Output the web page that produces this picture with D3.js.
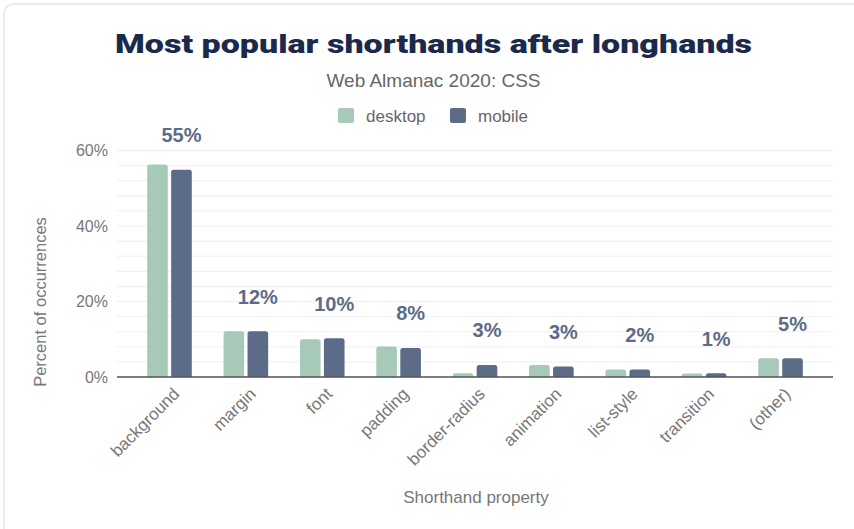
<!DOCTYPE html>
<html>
<head>
<meta charset="utf-8">
<script src="https://cdn.jsdelivr.net/npm/d3@7"></script>
<style>
  html, body { margin: 0; padding: 0; background: #fff; }
  svg { display: block; }
  text { font-family: Helvetica, "Liberation Sans", Arial, sans-serif; }
</style>
</head>
<body>
<svg id="chart" width="854" height="529"></svg>
<script>
const categories = ["background", "margin", "font", "padding", "border-radius", "animation", "list-style", "transition", "(other)"];
const seriesNames = ["desktop", "mobile"];
const desktopValues = [56.3, 12.1, 10.0, 8.1, 1.0, 3.2, 2.0, 0.9, 5.0];
const mobileValues  = [54.9, 12.1, 10.3, 7.7, 3.2, 2.8, 2.0, 1.0, 5.0];
const yTicks = [0, 20, 40, 60];
const gridTicks = [0, 4, 8, 12, 16, 20, 24, 28, 32, 36, 40, 44, 48, 52, 56, 60];
const titleText = "Most popular shorthands after longhands";
const subtitleText = "Web Almanac 2020: CSS";
const xTitle = "Shorthand property";
const yTitle = "Percent of occurrences";

const colors = { desktop: "#a6c9b8", mobile: "#5c6b87" };

const svg = d3.select("#chart");

// card border
svg.append("rect")
  .attr("x", 4).attr("y", 4).attr("width", 900).attr("height", 600)
  .attr("rx", 10).attr("ry", 10)
  .attr("fill", "#fff").attr("stroke", "#e6e6e6").attr("stroke-width", 1.5);

const x0 = d3.scaleBand().domain(categories).range([117, 833])
  .paddingInner(0.416).paddingOuter(0.395);
const x1 = d3.scaleBand().domain(seriesNames).range([0, x0.bandwidth()]).paddingInner(0.14);
const y = d3.scaleLinear().domain([0, 60]).range([377, 150.6]);

// grid
svg.append("g").selectAll("line").data(gridTicks).join("line")
  .attr("x1", 117).attr("x2", 833)
  .attr("y1", d => y(d)).attr("y2", d => y(d))
  .attr("stroke", "#efefef").attr("stroke-width", 1);

// y axis labels
const yAxis = d3.axisLeft(y).tickValues(yTicks).tickFormat(d => d + "%").tickSize(0).tickPadding(9);
const yg = svg.append("g").attr("transform", "translate(117,0)").call(yAxis);
yg.select(".domain").remove();
yg.selectAll("text").attr("font-size", 16).attr("fill", "#777").attr("font-family", 'Helvetica, "Liberation Sans", Arial, sans-serif');

// bars
const rows = categories.map((c, i) => ({ cat: c, desktop: desktopValues[i], mobile: mobileValues[i] }));
function topRounded(x, yTop, w, h, r) {
  r = Math.min(r, h, w / 2);
  return `M${x},${yTop + h}V${yTop + r}Q${x},${yTop} ${x + r},${yTop}H${x + w - r}Q${x + w},${yTop} ${x + w},${yTop + r}V${yTop + h}Z`;
}
const groups = svg.append("g").selectAll("g").data(rows).join("g")
  .attr("transform", d => `translate(${x0(d.cat)},0)`);
groups.selectAll("path").data(d => seriesNames.map(s => ({ s, v: d[s] }))).join("path")
  .attr("d", d => topRounded(x1(d.s), y(d.v), x1.bandwidth(), y(0) - y(d.v), 2.5))
  .attr("fill", d => colors[d.s]);

// x axis line
const xAxis = d3.axisBottom(x0).tickSize(0).tickFormat("");
const xg = svg.append("g").attr("transform", `translate(0,${y(0)})`).call(xAxis);
xg.select(".domain").attr("stroke", "#555").attr("stroke-width", 1.5).attr("d", "M117,0H833");

// x tick labels
svg.append("g").selectAll("text").data(categories).join("text")
  .attr("transform", d => `translate(${x0(d) + x0.bandwidth() / 2 + 11},395) rotate(-45)`)
  .attr("text-anchor", "end")
  .attr("font-size", 17).attr("fill", "#777")
  .text(d => d);

// value labels (mobile)
svg.append("g").selectAll("text").data(rows).join("text")
  .attr("x", d => x0(d.cat) + x1("mobile") + x1.bandwidth() / 2)
  .attr("y", d => y(d.mobile) - 27.5)
  .attr("text-anchor", "middle")
  .attr("font-size", 20).attr("font-weight", "bold").attr("fill", "#5c6b87")
  .text(d => Math.round(d.mobile) + "%");

// title
svg.append("text").attr("x", 433.5).attr("y", 53).attr("text-anchor", "middle")
  .attr("font-size", 26).attr("font-weight", 900).attr("fill", "#1b2a4a")
  .style("font-family", "Roboto, Lato, sans-serif")
  .attr("textLength", 637).attr("lengthAdjust", "spacingAndGlyphs")
  .text(titleText);

svg.append("text").attr("x", 433.5).attr("y", 87).attr("text-anchor", "middle")
  .attr("font-size", 19).attr("fill", "#666").text(subtitleText);

// legend
const legendItems = [
  { name: "desktop", x: 338 },
  { name: "mobile", x: 450 }
];
const lg = svg.append("g");
lg.selectAll("rect").data(legendItems).join("rect")
  .attr("x", d => d.x).attr("y", 108).attr("width", 16).attr("height", 15).attr("rx", 2)
  .attr("fill", d => colors[d.name]);
lg.selectAll("text").data(legendItems).join("text")
  .attr("x", d => d.x + 28).attr("y", 121.5)
  .attr("font-size", 17).attr("fill", "#666").text(d => d.name);

// axis titles
svg.append("text").attr("x", 476).attr("y", 503).attr("text-anchor", "middle")
  .attr("font-size", 17).attr("fill", "#777").text(xTitle);
svg.append("text").attr("transform", "translate(46,302) rotate(-90)").attr("text-anchor", "middle")
  .attr("font-size", 16.5).attr("fill", "#777").text(yTitle);
</script>
</body>
</html>
